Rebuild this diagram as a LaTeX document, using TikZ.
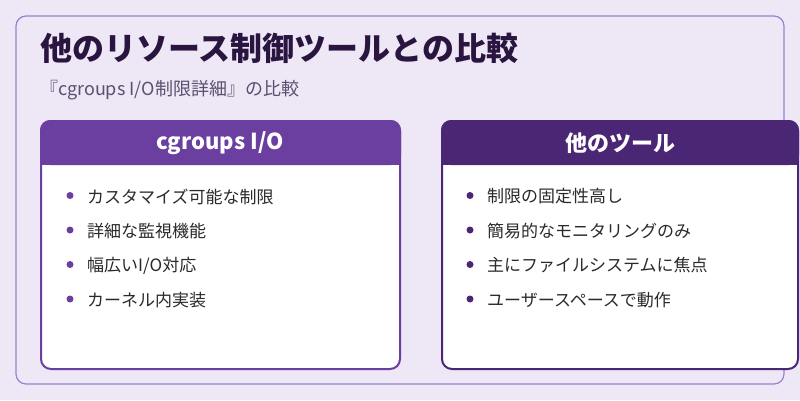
\documentclass[tikz,border=0pt]{standalone}
\usepackage{fontspec}
\setmainfont{Noto Sans CJK JP}
\definecolor{bg}{HTML}{EDE7F6}
\definecolor{frame}{HTML}{9B7FD0}
\definecolor{lhead}{HTML}{6A3FA0}
\definecolor{rhead}{HTML}{4A2675}
\definecolor{ttl}{HTML}{2A1540}
\definecolor{sub}{HTML}{5A5070}
\definecolor{txt}{HTML}{2A2A2A}
\tikzset{
  item/.style={anchor=west,font=\fontsize{17}{20}\selectfont,text=txt,inner sep=0},
  dot/.style={circle,inner sep=0,minimum size=7pt}
}
\begin{document}
\begin{tikzpicture}[x=1pt,y=-1pt]
\useasboundingbox (0,0) rectangle (800,400);
\fill[bg] (0,0) rectangle (800,400);
\draw[frame,line width=1.2pt,rounded corners=10pt] (16,16) rectangle (784,384);
\node[anchor=west,inner sep=0,font=\fontsize{32}{38}\bfseries\selectfont,text=ttl] (title) at (40,48) {他のリソース制御ツールとの比較};
\node[anchor=west,inner sep=0,font=\fontsize{18}{21}\selectfont,text=sub] (subt) at (40,90) {『cgroups I/O制限詳細』の比較};
% left card
\draw[lhead,line width=2pt,fill=white,rounded corners=10pt] (41,121) rectangle (400,369);
\fill[lhead,rounded corners=10pt] (40,120) rectangle (401,165);
\fill[lhead] (40,150) rectangle (401,165);
\node[font=\fontsize{22}{26}\bfseries\selectfont,text=white] (lh) at (220,143) {cgroups I/O};
\foreach \t [count=\i] in {カスタマイズ可能な制限,詳細な監視機能,幅広いI/O対応,カーネル内実装}{
  \node[dot,fill=lhead] (ld\i) at (70,161+34.5*\i) {};
  \node[item] (lt\i) at (87,162+34.5*\i) {\t};
}
% right card
\draw[rhead,line width=2pt,fill=white,rounded corners=10pt] (442,121) rectangle (798,369);
\fill[rhead,rounded corners=10pt] (441,120) rectangle (799,165);
\fill[rhead] (441,150) rectangle (799,165);
\node[font=\fontsize{22}{26}\bfseries\selectfont,text=white] (rh) at (620,143) {他のツール};
\foreach \t [count=\i] in {制限の固定性高し,簡易的なモニタリングのみ,主にファイルシステムに焦点,ユーザースペースで動作}{
  \node[dot,fill=rhead] (rd\i) at (470,161+34.5*\i) {};
  \node[item] (rt\i) at (487,162+34.5*\i) {\t};
}
\end{tikzpicture}
\end{document}
